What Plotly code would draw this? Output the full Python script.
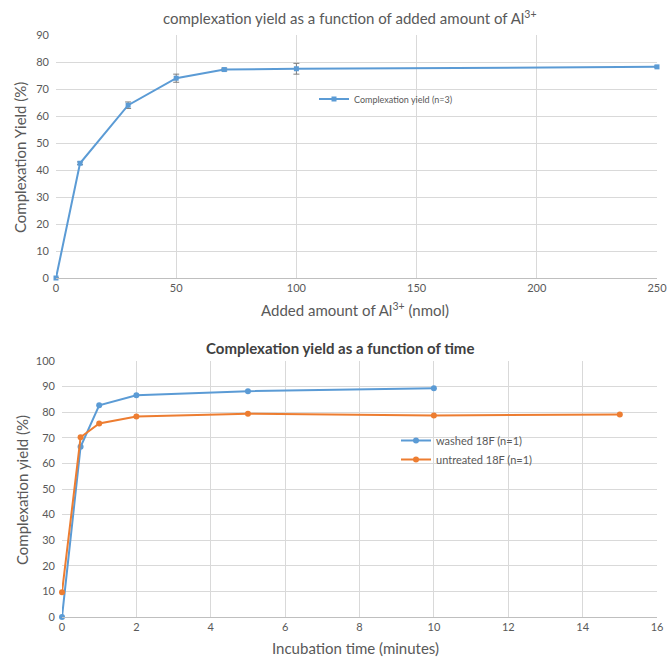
import plotly.graph_objects as go

# Top chart data
al_amount = [0, 10, 30, 50, 70, 100, 250]
al_yield = [0, 42.5, 64.0, 74.0, 77.2, 77.5, 78.2]
al_err = [0, 0.5, 1.2, 1.5, 0.5, 2.0, 0.3]

# Bottom chart data
time_washed = [0, 0.5, 1, 2, 5, 10]
yield_washed = [0, 66.5, 82.7, 86.6, 88.2, 89.4]
time_untreated = [0, 0.5, 1, 2, 5, 10, 15]
yield_untreated = [9.7, 70.2, 75.6, 78.3, 79.4, 78.7, 79.1]

BLUE = "#5B9BD5"
ORANGE = "#ED7D31"
GRID = "#D9D9D9"
TXT = "#595959"
FONT = "Lato"

fig = go.Figure()

fig.add_trace(go.Scatter(
    x=al_amount, y=al_yield, mode="lines+markers", name="Complexation yield (n=3)",
    line=dict(color=BLUE, width=2), marker=dict(color=BLUE, size=5, symbol="square"),
    error_y=dict(type="data", array=al_err, visible=True, color="#7F7F7F", thickness=1, width=3),
    xaxis="x", yaxis="y", legend="legend", cliponaxis=False,
))

fig.add_trace(go.Scatter(
    x=time_washed, y=yield_washed, mode="lines+markers", name="washed 18F (n=1)",
    line=dict(color=BLUE, width=2), marker=dict(color=BLUE, size=6),
    xaxis="x2", yaxis="y2", legend="legend2", cliponaxis=False,
))
fig.add_trace(go.Scatter(
    x=time_untreated, y=yield_untreated, mode="lines+markers", name="untreated 18F (n=1)",
    line=dict(color=ORANGE, width=2), marker=dict(color=ORANGE, size=6),
    xaxis="x2", yaxis="y2", legend="legend2", cliponaxis=False,
))

axis_common = dict(showgrid=True, gridcolor=GRID, gridwidth=1, zeroline=False, automargin=False,
                   tickfont=dict(family=FONT, size=11, color=TXT), ticks="", fixedrange=True)

def ann(text, x, y, size=15, color=TXT, angle=0):
    return dict(text=text, x=x/670, y=1-y/660, xref="paper", yref="paper", showarrow=False,
                xanchor="center", yanchor="middle", textangle=angle,
                font=dict(family=FONT, size=size, color=color))

fig.update_layout(
    template="none",
    width=670, height=660,
    margin=dict(l=0, r=0, t=0, b=0, autoexpand=False),
    paper_bgcolor="white", plot_bgcolor="white",
    font=dict(family=FONT, color=TXT),
    xaxis=dict(domain=[56/670, 657/670], range=[0, 250], tickvals=[0, 50, 100, 150, 200, 250],
               showline=True, linecolor="#BFBFBF", linewidth=1, anchor="y", **axis_common),
    yaxis=dict(domain=[1-278/660, 1-35/660], range=[0, 90], dtick=10, anchor="x",
               showline=False, ticklabelstandoff=6, **axis_common),
    xaxis2=dict(domain=[62/670, 657/670], range=[0, 16], dtick=2,
                showline=True, linecolor="#BFBFBF", linewidth=1, anchor="y2", **axis_common),
    yaxis2=dict(domain=[1-617/660, 1-361/660], range=[0, 100], dtick=10, anchor="x2",
                showline=False, ticklabelstandoff=6, **axis_common),
    legend=dict(x=314/670, y=1-99/660, xanchor="left", yanchor="middle",
                bgcolor="rgba(0,0,0,0)", font=dict(family=FONT, size=9, color=TXT)),
    legend2=dict(x=396/670, y=1-450/660, xanchor="left", yanchor="middle",
                 bgcolor="rgba(0,0,0,0)", font=dict(family=FONT, size=11, color=TXT),
                 tracegroupgap=0),
    showlegend=True,
    annotations=[
        ann("complexation yield as a function of added amount of Al<sup>3+</sup>", 350, 17),
        ann("Added amount of Al<sup>3+</sup> (nmol)", 355, 309),
        ann("Complexation Yield (%)", 20, 158, angle=-90),
        ann("<b>Complexation yield as a function of time</b>", 340, 348, color="#404040"),
        ann("Complexation yield (%)", 22, 490, angle=-90),
        ann("Incubation time (minutes)", 355, 648),
    ],
)

fig.write_html("out.html")
